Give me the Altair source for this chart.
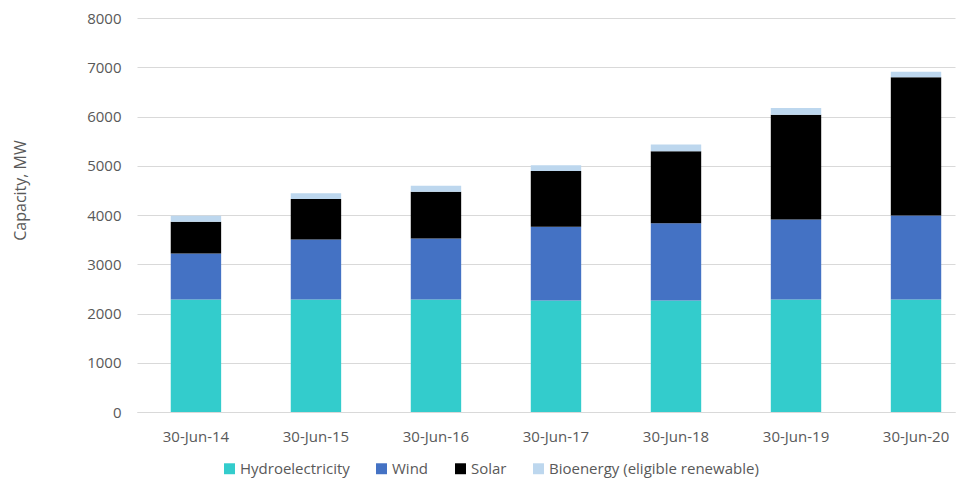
import altair as alt
import pandas as pd

dates = ["30-Jun-14", "30-Jun-15", "30-Jun-16", "30-Jun-17", "30-Jun-18", "30-Jun-19", "30-Jun-20"]
series = ["Hydroelectricity", "Wind", "Solar", "Bioenergy (eligible renewable)"]
hydro = [2285, 2285, 2285, 2265, 2265, 2285, 2285]
wind = [935, 1220, 1240, 1495, 1570, 1625, 1707]
solar = [642, 820, 948, 1132, 1457, 2127, 2805]
bio = [122, 116, 121, 116, 142, 136, 114]
colors = ["#33CCCC", "#4472C4", "#000000", "#BDD7EE"]

rows = []
for i, d in enumerate(dates):
    for k, (name, vals) in enumerate(zip(series, [hydro, wind, solar, bio])):
        rows.append({"date": d, "series": name, "value": vals[i], "order": k})
df = pd.DataFrame(rows)

font = "Open Sans"
grey = "#595959"

chart = alt.Chart(df).mark_bar().encode(
    x=alt.X("date:N", sort=dates, title=None,
            scale=alt.Scale(paddingInner=0.58, paddingOuter=0.198, align=0.71),
            axis=alt.Axis(labelAngle=0, labelFont=font, labelFontSize=15, labelColor=grey,
                          labelPadding=17, ticks=False, domain=True, domainColor="#d9d9d9",
                          grid=False)),
    y=alt.Y("value:Q", title="Capacity, MW",
            scale=alt.Scale(domain=[0, 8000], nice=False),
            axis=alt.Axis(values=list(range(0, 8001, 1000)), format="d", labelFont=font,
                          labelFontSize=15, labelColor=grey, labelPadding=16, ticks=False,
                          domain=False, gridColor="#d9d9d9", gridWidth=1,
                          titleFont=font, titleFontSize=16, titleFontWeight="normal",
                          titleColor=grey, titleAngle=-90, titleX=-117, titleY=172,
                          titleAlign="center", titleBaseline="middle")),
    color=alt.Color("series:N", sort=series,
                    scale=alt.Scale(domain=series, range=colors),
                    legend=alt.Legend(title=None, orient="none", direction="horizontal",
                                      legendX=85, legendY=443, symbolType="square",
                                      symbolSize=120, symbolStrokeWidth=0,
                                      labelFont=font, labelFontSize=15, labelColor=grey,
                                      labelOffset=3, labelLimit=0, columnPadding=24,
                                      padding=0)),
    order=alt.Order("order:Q", sort="ascending"),
).properties(
    width=818, height=394,
    autosize=alt.AutoSizeParams(type="none"),
    padding={"left": 129, "top": 10, "right": 2, "bottom": 66},
).configure_view(stroke=None)

chart.save("out.html", embed_options={"renderer": "svg", "actions": False})
